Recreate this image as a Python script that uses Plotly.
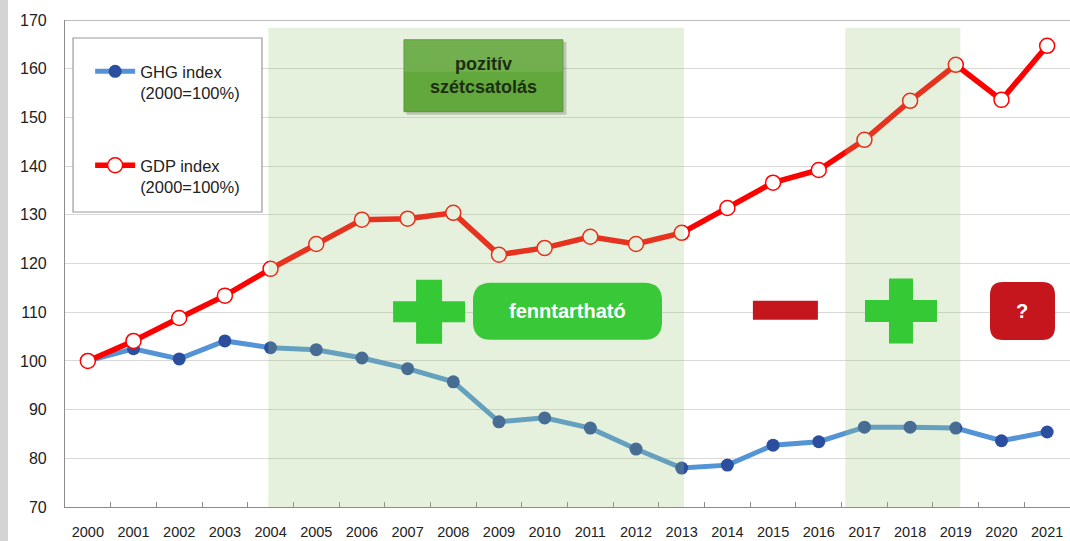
import plotly.graph_objects as go

years = [str(y) for y in range(2000, 2022)]
ghg = [100.0, 102.5, 100.4, 104.1, 102.7, 102.3, 100.6, 98.4, 95.7, 87.5, 88.3,
       86.2, 81.9, 78.0, 78.6, 82.7, 83.4, 86.4, 86.4, 86.2, 83.6, 85.4]
gdp = [100.0, 104.1, 108.8, 113.4, 118.9, 124.0, 129.0, 129.2, 130.4, 121.8, 123.2,
       125.5, 124.0, 126.3, 131.4, 136.6, 139.2, 145.4, 153.4, 160.8, 153.6, 164.7]
series_names = ["GHG index<br>(2000=100%)", "GDP index<br>(2000=100%)"]
y_ticks = list(range(70, 171, 10))

FONT = "Liberation Sans, Arial, sans-serif"

fig = go.Figure()
fig.add_trace(go.Scatter(
    x=years, y=ghg, name=series_names[0], mode="lines+markers", legendgroup="a",
    line=dict(color="#5393d6", width=5),
    marker=dict(size=13, color="#2b4f9e", line=dict(width=0)),
))
fig.add_trace(go.Scatter(
    x=years, y=gdp, name=series_names[1], mode="lines+markers", legendgroup="b",
    line=dict(color="#ff0000", width=5.5),
    marker=dict(size=15, color="white", line=dict(width=1.5, color="#ff0000")),
))


def rrect(w, h, r):
    x0, x1, y0, y1 = -w / 2, w / 2, -h / 2, h / 2
    return (f"M{x0 + r},{y0} L{x1 - r},{y0} Q{x1},{y0} {x1},{y0 + r} "
            f"L{x1},{y1 - r} Q{x1},{y1} {x1 - r},{y1} L{x0 + r},{y1} "
            f"Q{x0},{y1} {x0},{y1 - r} L{x0},{y0 + r} Q{x0},{y0} {x0 + r},{y0} Z")


def plus(lh, lv, a, b):
    return (f"M{-a},{lv} L{a},{lv} L{a},{b} L{lh},{b} L{lh},{-b} L{a},{-b} "
            f"L{a},{-lv} L{-a},{-lv} L{-a},{-b} L{-lh},{-b} L{-lh},{b} L{-a},{b} Z")


def pix_shape(path, xa, ya, color, line_color=None, layer="above"):
    return dict(type="path", xref="x", yref="y", xsizemode="pixel", ysizemode="pixel",
                xanchor=xa, yanchor=ya, path=path, fillcolor=color,
                line=dict(width=0 if line_color is None else 1, color=line_color or color),
                layer=layer)


shapes = []
# left grey strip of the image
shapes.append(dict(type="rect", xref="paper", yref="paper", x0=-0.07, x1=-0.0567,
                   y0=-0.1, y1=1.1, fillcolor="#d4d4d4", line=dict(width=0), layer="below"))
# top border
shapes.append(dict(type="line", xref="paper", yref="y", x0=0, x1=1, y0=170, y1=170,
                   line=dict(color="#a6a6a6", width=1.5), layer="below"))
# shaded periods (overlay)
for x0, x1 in [(3.95, 13.05), (16.58, 19.1)]:
    shapes.append(dict(type="rect", xref="x", yref="y", x0=x0, x1=x1, y0=70, y1=168.4,
                       fillcolor="rgba(155,200,120,0.25)", line=dict(width=0), layer="above"))
# legend box
shapes.append(dict(type="rect", xref="paper", yref="paper", x0=0.008, x1=0.196,
                   y0=0.6057, y1=0.963, fillcolor="white",
                   line=dict(color="#9a9a9a", width=1.2), layer="above"))
# top box shadow + box
shapes.append(dict(type="path", xref="x", yref="y", xsizemode="pixel", ysizemode="pixel",
                   xanchor=8.66, yanchor=158.56,
                   path="M-77,-39 L83,-39 L83,34 L-77,34 Z",
                   fillcolor="rgba(0,0,0,0.18)", line=dict(width=0), layer="above"))
shapes.append(dict(type="path", xref="x", yref="y", xsizemode="pixel", ysizemode="pixel",
                   xanchor=8.66, yanchor=158.56,
                   path="M-79.5,-36 L79.5,-36 L79.5,36 L-79.5,36 Z",
                   fillcolor="#62a83c", line=dict(width=0.8, color="#4e8f2e"), layer="above"))
shapes.append(dict(type="path", xref="x", yref="y", xsizemode="pixel", ysizemode="pixel",
                   xanchor=8.66, yanchor=158.56,
                   path="M-79.5,4 L79.5,4 L79.5,36 L-79.5,36 Z",
                   fillcolor="rgba(255,255,255,0.10)", line=dict(width=0), layer="above"))
# green plus signs
shapes.append(pix_shape(plus(36, 32, 13, 10.5), 7.47, 110.07, "#35c935"))
shapes.append(pix_shape(plus(36, 32.5, 12, 11), 17.80, 110.27, "#35c935"))
# fenntarthato box
shapes.append(pix_shape(rrect(189, 57, 18), 10.50, 110.17, "#38c838"))
# minus
shapes.append(pix_shape("M-32.5,-9.5 L32.5,-9.5 L32.5,9.5 L-32.5,9.5 Z", 15.27, 110.38, "#c4161c"))
# question box
shapes.append(pix_shape(rrect(65, 58, 13), 20.46, 110.27, "#c4161c"))

annotations = [
    dict(x=8.66, y=158.56, xref="x", yref="y", text="<b>pozitív<br>szétcsatolás</b>",
         showarrow=False, font=dict(family=FONT, size=18, color="#1c2e12")),
    dict(x=10.50, y=110.17, xref="x", yref="y", text="<b>fenntartható</b>",
         showarrow=False, font=dict(family=FONT, size=20, color="white")),
    dict(x=20.46, y=110.27, xref="x", yref="y", text="<b>?</b>",
         showarrow=False, font=dict(family=FONT, size=20, color="white")),
]

fig.update_layout(
    width=1070, height=541,
    margin=dict(l=65, r=0, t=20, b=34),
    paper_bgcolor="white", plot_bgcolor="white",
    shapes=shapes, annotations=annotations,
    showlegend=True,
    legend=dict(x=0.025, y=0.93, xanchor="left", yanchor="top",
                bgcolor="rgba(0,0,0,0)", borderwidth=0,
                font=dict(family=FONT, size=16.5, color="#222"),
                tracegroupgap=48, valign="top", itemwidth=40),
    font=dict(family=FONT),
)
fig.update_xaxes(
    type="category", range=[-0.5, 21.5], tickson="boundaries",
    ticks="inside", ticklen=5, tickcolor="#8c8c8c",
    showline=True, linecolor="#8c8c8c", linewidth=1.2,
    showgrid=False, tickfont=dict(family=FONT, size=14.5, color="#222"),
    ticklabelstandoff=11,
)
fig.update_yaxes(
    range=[70, 170], tickvals=y_ticks, showgrid=True, gridcolor="#d9d9d9", gridwidth=1,
    showline=True, linecolor="#8c8c8c", linewidth=1.2, zeroline=False,
    tickfont=dict(family=FONT, size=16, color="#222"), ticklabelstandoff=14,
)
fig.write_html("out.html", config={"displayModeBar": False},
               post_script="document.body.style.margin='0';document.body.style.overflow='hidden';")
